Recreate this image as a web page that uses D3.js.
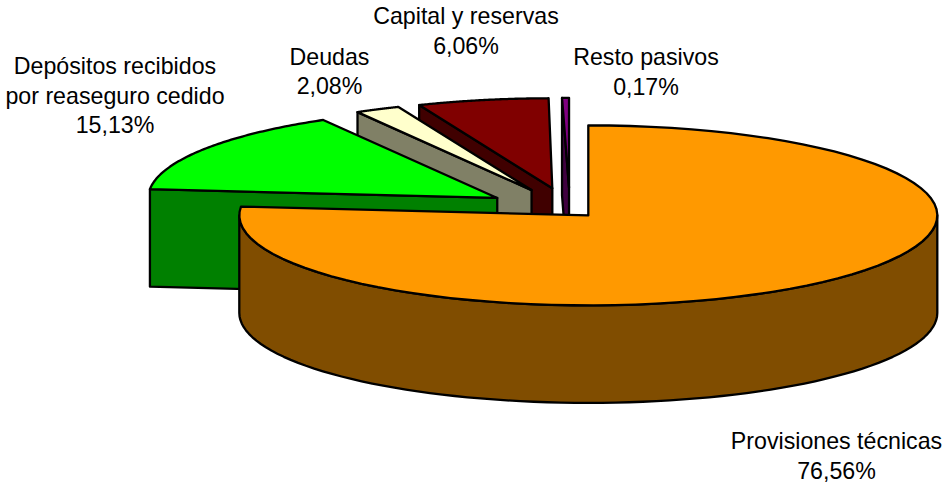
<!DOCTYPE html>
<html><head><meta charset="utf-8">
<script src="https://cdn.jsdelivr.net/npm/d3@7/dist/d3.min.js"></script>
<style>html,body{margin:0;padding:0;background:#fff}svg{display:block}</style>
</head><body>
<svg id="c" width="942" height="482"></svg>
<script>
// Data
const categories = ["Provisiones técnicas","Depósitos recibidos por reaseguro cedido","Deudas","Capital y reservas","Resto pasivos"];
const values = [76.56,15.13,2.08,6.06,0.17];
const valueLabels = ["76,56%","15,13%","2,08%","6,06%","0,17%"];
const explosion = [28,86,86,86,86];
const topColors = ["#ff9900","#00ff00","#ffffcc","#800000","#800080"];
const sideColors = ["#804d00","#008000","#808066","#400000","#400040"];
const labelLines = [["Provisiones técnicas"],["Depósitos recibidos","por reaseguro cedido"],["Deudas"],["Capital y reservas"],["Resto pasivos"]];
const labelAnchors = [[836.5,449],[115,74],[329.5,64.5],[466,24],[646,65]];

// Layout
const cx=569.5, cy=210, rx=349, ry=90, depth=97.5, lineGap=29.5;
const minSweep=1.15*Math.PI/180; // the thinnest slice keeps a visible width
const svg=d3.select("#c");
const pie=d3.pie().sort(null).value(d=>d)(values);
const pt=(a,c)=>[c[0]+rx*Math.sin(a), c[1]-ry*Math.cos(a)];
const apex=(d,i)=>{const m=(d.startAngle+d.endAngle)/2;return [cx+explosion[i]*Math.sin(m), cy-explosion[i]*(ry/rx)*Math.cos(m)];};
const arcPts=(a0,a1,c)=>d3.range(0,81).map(k=>pt(a0+(a1-a0)*k/80,c));
const line=d3.line();
function draw(pts,fill){
  svg.append("path").attr("d",line(pts)+"Z").attr("fill",fill)
    .attr("stroke","#000").attr("stroke-width",2.3).attr("stroke-linejoin","round");
}
// back to front: last slices first
[4,3,2,1,0].forEach(i=>{
  const d=pie[i], c=apex(d,i), down=([x,y])=>[x,y+depth];
  const a0=Math.min(d.startAngle,d.endAngle-minSweep), a1=d.endAngle;
  // start radial wall
  const s=pt(a0,c);
  if(i>0) draw([c,s,down(s),down(c)],sideColors[i]);
  // outer rim: front half (angles between 90° and 270°)
  const r0=Math.max(a0,Math.PI/2), r1=Math.min(a1,3*Math.PI/2);
  if(r1>r0){const a=arcPts(r0,r1,c);draw(a.concat(a.map(down).reverse()),sideColors[i]);}
  // top face
  draw([c].concat(arcPts(a0,a1,c)),topColors[i]);
});
// Labels
labelLines.forEach((ls,i)=>{
  const t=svg.append("text").attr("text-anchor","middle").attr("font-family","'Liberation Sans',Arial,sans-serif").attr("font-size",23.2).attr("fill","#000");
  ls.concat([valueLabels[i]]).forEach((l,j)=>t.append("tspan").attr("x",labelAnchors[i][0]).attr("y",labelAnchors[i][1]+j*lineGap).text(l));
});
</script>
</body></html>
